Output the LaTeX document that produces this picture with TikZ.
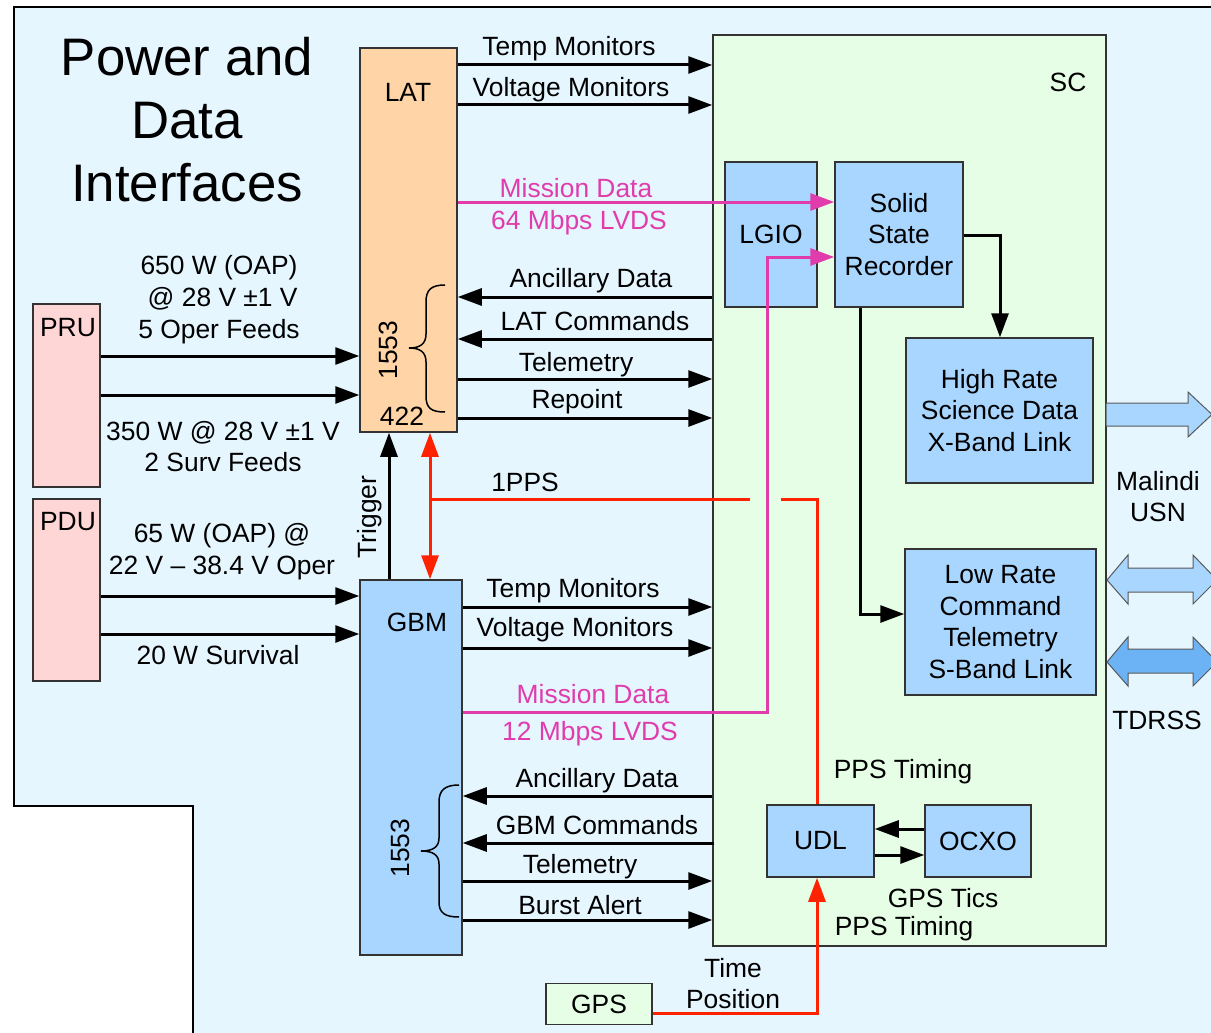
\documentclass[tikz,border=0pt]{standalone}
\usepackage{fontspec}
\setmainfont{Liberation Sans}
\usetikzlibrary{arrows.meta,calc}
\definecolor{bgblue}{HTML}{E6F6FF}
\definecolor{latorange}{HTML}{FFD4A6}
\definecolor{boxblue}{HTML}{A8D6FF}
\definecolor{scgreen}{HTML}{E6FDE6}
\definecolor{prupink}{HTML}{FFD6D6}
\definecolor{magline}{HTML}{E03CAC}
\definecolor{redline}{HTML}{FF2200}
\definecolor{darkblue}{HTML}{6BB3F5}
\definecolor{edgegray}{HTML}{333333}
\begin{document}
\begin{tikzpicture}[x=1pt,y=-1pt,
  box/.style={draw=edgegray,line width=1.5pt,rectangle,inner sep=0pt,align=center,
    font=\fontsize{26.4}{31.7}\selectfont},
  lbl/.style={font=\fontsize{26.4}{31.7}\selectfont,inner sep=0pt,align=center,yshift=-2.5pt},
  rlbl/.style={font=\fontsize{26.4}{31.7}\selectfont,inner sep=0pt,rotate=90},
  arr/.style={line width=3pt,-{Triangle[length=24pt,width=17pt]}},
  marr/.style={line width=3pt,magline,-{Triangle[length=24pt,width=17pt]}},
  rline/.style={line width=3pt,redline},
  rarr/.style={line width=3pt,redline,-{Triangle[length=24pt,width=17pt]}},
  rdarr/.style={line width=3pt,redline,{Triangle[length=24pt,width=17pt]}-{Triangle[length=24pt,width=17pt]}},
  bracestyle/.style={line width=1.5pt},
  blockarrow/.style={draw=gray!70!black,line width=1pt,line join=miter}
]
\useasboundingbox (0,0) rectangle (1211,1033);
\clip (0,0) rectangle (1211,1033);
\fill[white] (0,0) rectangle (1211,1033);
% background region
\draw[fill=bgblue,line width=2.5pt] (1240,7) -- (14,7) -- (14,806) -- (193,806) -- (193,1050) -- (1240,1050) -- cycle;

% title
\node[font=\fontsize{52.8}{63}\selectfont,align=center,inner sep=0pt] (title) at (187,120) {Power and\\Data\\Interfaces};

% boxes
\node[box,fill=scgreen,minimum width=393,minimum height=911] (SC) at (909.5,490.5) {};
\node[box,fill=latorange,minimum width=97,minimum height=384] (LAT) at (408.5,240) {};
\node[box,fill=boxblue,minimum width=102,minimum height=375] (GBM) at (411,767.5) {};
\node[box,fill=prupink,minimum width=67,minimum height=183] (PRU) at (66.5,395.5) {};
\node[box,fill=prupink,minimum width=67,minimum height=182] (PDU) at (66.5,590) {};
\node[box,fill=boxblue,minimum width=92,minimum height=145] (LGIO) at (771,234.5) {LGIO};
\node[box,fill=boxblue,minimum width=128,minimum height=145] (SSR) at (899,234.5) {Solid\\State\\Recorder};
\node[box,fill=boxblue,minimum width=187,minimum height=145] (HR) at (999.5,410.5) {High Rate\\Science Data\\X-Band Link};
\node[box,fill=boxblue,minimum width=191,minimum height=146] (LR) at (1000.5,622) {Low Rate\\Command\\Telemetry\\S-Band Link};
\node[box,fill=boxblue,minimum width=107,minimum height=72] (UDL) at (820.5,841) {UDL};
\node[box,fill=boxblue,minimum width=106,minimum height=72] (OCXO) at (978,841) {OCXO};
\node[box,fill=scgreen,minimum width=106,minimum height=41] (GPS) at (599,1004) {GPS};

% box labels
\node[lbl] (tLAT) at (408,90) {LAT};
\node[lbl] (tGBM) at (417,620) {GBM};
\node[lbl] (tSC) at (1068,80) {SC};
\node[lbl] (tPRU) at (68,325) {PRU};
\node[lbl] (tPDU) at (68,519) {PDU};
\node[rlbl] (t1553a) at (388,350) {1553};
\node[lbl] (t422) at (402,414) {422};
\node[rlbl] (t1553b) at (400,848) {1553};

% braces
\draw[bracestyle] (445,285) .. controls (431,285) and (426,290) .. (426,302) -- (426,334)
  .. controls (426,344) and (420,348) .. (409,348)
  .. controls (420,348) and (426,352) .. (426,362) -- (426,396)
  .. controls (426,408) and (431,412) .. (445,412);
\draw[bracestyle] (459,785) .. controls (445,785) and (439,790) .. (439,802) -- (439,838)
  .. controls (439,847) and (433,851) .. (421,851)
  .. controls (433,851) and (439,855) .. (439,864) -- (439,902)
  .. controls (439,913) and (445,917) .. (459,917);

% LAT <-> SC
\draw[arr] (LAT.east |- 0,65) -- (SC.west |- 0,65);
\node[lbl] (lTM1) at (569,46) {Temp Monitors};
\draw[arr] (LAT.east |- 0,105) -- (SC.west |- 0,105);
\node[lbl] (lVM1) at (571,87) {Voltage Monitors};
\draw[marr] (LAT.east |- 0,202) -- (SSR.west |- 0,202);
\node[lbl,text=magline] (lMD1) at (576,186) {Mission Data};
\node[lbl,text=magline] (lMb1) at (579,220) {64 Mbps LVDS};
\draw[arr] (SC.west |- 0,297) -- (LAT.east |- 0,297);
\node[lbl] (lAD1) at (591,278) {Ancillary Data};
\draw[arr] (SC.west |- 0,339) -- (LAT.east |- 0,339);
\node[lbl] (lLC) at (595,319) {LAT Commands};
\draw[arr] (LAT.east |- 0,379) -- (SC.west |- 0,379);
\node[lbl] (lTel1) at (576,362) {Telemetry};
\draw[arr] (LAT.east |- 0,418) -- (SC.west |- 0,418);
\node[lbl] (lRep) at (577,399) {Repoint};

% PRU -> LAT
\draw[arr] (PRU.east |- 0,356) -- (LAT.west |- 0,356);
\draw[arr] (PRU.east |- 0,395) -- (LAT.west |- 0,395);
\node[lbl] (lPRU1) at (219,297) {650 W (OAP)\\\ @ 28 V ±1 V\\5 Oper Feeds};
\node[lbl] (lPRU2) at (223,444) {350 W @ 28 V ±1 V\\2 Surv Feeds};

% PDU -> GBM
\draw[arr] (PDU.east |- 0,596) -- (GBM.west |- 0,596);
\draw[arr] (PDU.east |- 0,634) -- (GBM.west |- 0,634);
\node[lbl] (lPDU1) at (222,549) {65 W (OAP) @\\22 V – 38.4 V Oper};
\node[lbl] (lPDU2) at (218,653) {20 W Survival};

% Trigger
\draw[arr] (GBM.north -| 389,0) -- (LAT.south -| 389,0);
\node[rlbl] (lTrig) at (370,517) {Trigger};

% 1PPS
\draw[rdarr] (LAT.south -| 430,0) -- (GBM.north -| 430,0);
\coordinate (ppsL) at (430,499);
\coordinate (hopL) at (750,499);
\coordinate (hopR) at (781,499);
\draw[rline] (ppsL) -- (hopL);
\draw[rline] (hopR) -- (817,499) -- (UDL.north -| 817,0);
\node[lbl] (l1PPS) at (525,480) {1PPS};
\node[lbl] (lPPST1) at (903,769) {PPS Timing};

% GBM <-> SC
\draw[arr] (GBM.east |- 0,607) -- (SC.west |- 0,607);
\node[lbl] (lTM2) at (573,588) {Temp Monitors};
\draw[arr] (GBM.east |- 0,648) -- (SC.west |- 0,648);
\node[lbl] (lVM2) at (575,627) {Voltage Monitors};
\draw[marr] (GBM.east |- 0,712) -- (767,712) -- (767,257) -- (SSR.west |- 0,257);
\node[lbl,text=magline] (lMD2) at (593,692) {Mission Data};
\node[lbl,text=magline] (lMb2) at (590,731) {12 Mbps LVDS};
\draw[arr] (SC.west |- 0,796) -- (GBM.east |- 0,796);
\node[lbl] (lAD2) at (597,778) {Ancillary Data};
\draw[arr] ([xshift=2pt]SC.west |- 0,843) -- (GBM.east |- 0,843);
\node[lbl] (lGC) at (597,823) {GBM Commands};
\draw[arr] (GBM.east |- 0,881) -- (SC.west |- 0,881);
\node[lbl] (lTel2) at (580,864) {Telemetry};
\draw[arr] (GBM.east |- 0,920) -- (SC.west |- 0,920);
\node[lbl] (lBA) at (580,903) {Burst Alert};

% SSR outputs
\draw[arr] (SSR.east |- 0,235) -- (1000,235) -- (HR.north -| 1000,0);
\draw[arr] (SSR.south -| 860,0) -- (860,614) -- (LR.west |- 0,614);

% UDL <-> OCXO
\draw[arr] (OCXO.west |- 0,829) -- (UDL.east |- 0,829);
\draw[arr] (UDL.east |- 0,855) -- (OCXO.west |- 0,855);
\node[lbl] (lGT) at (943,896) {GPS Tics};
\node[lbl] (lPPST2) at (904,926) {PPS Timing};

% GPS -> UDL
\draw[rarr] (GPS.east |- 0,1013) -- (817,1013) -- (UDL.south -| 817,0);
\node[lbl] (lTP) at (733,981) {Time\\Position};

% block arrows
\filldraw[blockarrow,fill=boxblue] (1106,403) -- (1188,403) -- (1188,392) -- (1212,414.5) -- (1188,437) -- (1188,426) -- (1106,426) -- cycle;
\filldraw[blockarrow,fill=boxblue] (1107,580) -- (1128,555) -- (1128,568) -- (1193,568) -- (1193,555) -- (1217,580) -- (1193,604) -- (1193,592) -- (1128,592) -- (1128,604) -- cycle;
\filldraw[blockarrow,fill=darkblue] (1107,662) -- (1128,637) -- (1128,649) -- (1193,649) -- (1193,637) -- (1217,662) -- (1193,686) -- (1193,673) -- (1128,673) -- (1128,686) -- cycle;
\node[lbl] (lMal) at (1158,494) {Malindi\\USN};
\node[lbl] (lTDRSS) at (1157,718) {TDRSS};
\end{tikzpicture}
\end{document}
